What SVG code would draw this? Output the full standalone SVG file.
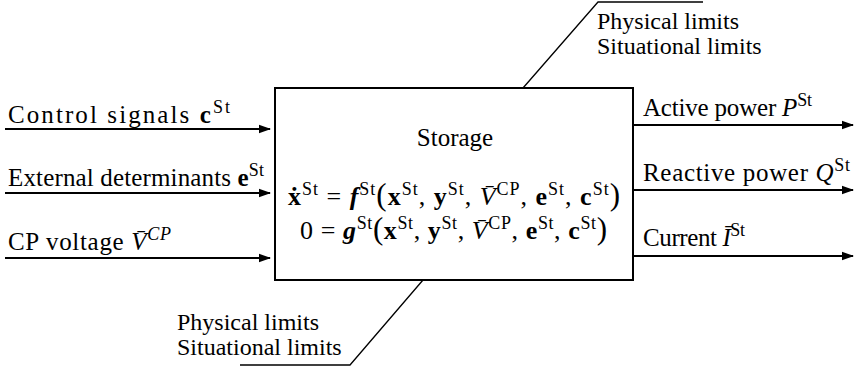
<svg xmlns="http://www.w3.org/2000/svg" width="861" height="370" viewBox="0 0 861 370">
<style>
text{font-family:"Liberation Serif","Times New Roman",serif;font-size:25px;fill:#000}
.lbl{font-size:25px}
.lim{font-size:24px}
.eq{font-size:26px}
.sup{font-size:18px}
.b{font-weight:bold}
.i{font-style:italic}
.bi{font-weight:bold;font-style:italic}
.big{font-size:31px}
.wire{stroke:#000;stroke-width:2;fill:none}
.lead{stroke:#000;stroke-width:1.3;fill:none}
</style>
<defs>
<marker id="ah" markerUnits="userSpaceOnUse" markerWidth="12" markerHeight="10" refX="11" refY="5" orient="auto">
<path d="M0,0.8 L12,5 L0,9.2 Z" fill="#000"/>
</marker>
</defs>
<g id="storage">
<rect x="275" y="88" width="358" height="192" fill="#fff" stroke="#000" stroke-width="2"/>
<text x="455" y="146" text-anchor="middle" class="lbl">Storage</text>
<text class="eq" x="288" y="205" textLength="332" lengthAdjust="spacing"><tspan class="b">ẋ</tspan><tspan class="sup" dy="-10">St</tspan><tspan dy="10"> = </tspan><tspan class="bi">f</tspan><tspan class="sup" dy="-10">St</tspan><tspan class="big" dy="10">(</tspan><tspan class="b">x</tspan><tspan class="sup" dy="-10">St</tspan><tspan dy="10">, </tspan><tspan class="b">y</tspan><tspan class="sup" dy="-10">St</tspan><tspan dy="10">, </tspan><tspan class="i">V̄</tspan><tspan class="sup" dy="-10">CP</tspan><tspan dy="10">, </tspan><tspan class="b">e</tspan><tspan class="sup" dy="-10">St</tspan><tspan dy="10">, </tspan><tspan class="b">c</tspan><tspan class="sup" dy="-10">St</tspan><tspan class="big" dy="10">)</tspan></text>
<text class="eq" x="300" y="239" textLength="307" lengthAdjust="spacing"><tspan>0 = </tspan><tspan class="bi">g</tspan><tspan class="sup" dy="-10">St</tspan><tspan class="big" dy="10">(</tspan><tspan class="b">x</tspan><tspan class="sup" dy="-10">St</tspan><tspan dy="10">, </tspan><tspan class="b">y</tspan><tspan class="sup" dy="-10">St</tspan><tspan dy="10">, </tspan><tspan class="i">V̄</tspan><tspan class="sup" dy="-10">CP</tspan><tspan dy="10">, </tspan><tspan class="b">e</tspan><tspan class="sup" dy="-10">St</tspan><tspan dy="10">, </tspan><tspan class="b">c</tspan><tspan class="sup" dy="-10">St</tspan><tspan class="big" dy="10">)</tspan></text>
</g>
<g id="in-control">
<text class="lbl" x="8" y="123" textLength="222" lengthAdjust="spacing">Control signals <tspan class="b">c</tspan><tspan class="sup" dy="-10">St</tspan></text>
</g>
<g id="in-external">
<text class="lbl" x="8" y="186" textLength="256" lengthAdjust="spacing">External determinants <tspan class="b">e</tspan><tspan class="sup" dy="-10">St</tspan></text>
</g>
<g id="in-voltage">
<text class="lbl" x="8" y="250" textLength="163" lengthAdjust="spacing">CP voltage <tspan class="i">V̄</tspan><tspan class="sup i" dy="-10">CP</tspan></text>
</g>
<g id="out-active">
<text class="lbl" x="643" y="116" textLength="169" lengthAdjust="spacing">Active power <tspan class="i">P</tspan><tspan class="sup" dy="-10">St</tspan></text>
</g>
<g id="out-reactive">
<text class="lbl" x="643" y="181" textLength="207" lengthAdjust="spacing">Reactive power <tspan class="i">Q</tspan><tspan class="sup" dy="-10">St</tspan></text>
</g>
<g id="out-current">
<text class="lbl" x="643" y="246" textLength="102" lengthAdjust="spacing">Current <tspan class="i">Ī</tspan><tspan class="sup" dy="-10">St</tspan></text>
</g>
<g id="limits-top">
<text class="lim" x="597" y="29">Physical limits</text>
<text class="lim" x="597" y="54">Situational limits</text>
</g>
<g id="limits-bottom">
<text class="lim" x="177" y="330">Physical limits</text>
<text class="lim" x="177" y="355">Situational limits</text>
</g>
<g id="connectors">
<line class="wire" x1="5" y1="129" x2="270" y2="129" marker-end="url(#ah)"/>
<line class="wire" x1="5" y1="193" x2="270" y2="193" marker-end="url(#ah)"/>
<line class="wire" x1="5" y1="258" x2="270" y2="258" marker-end="url(#ah)"/>
<line class="wire" x1="633" y1="125" x2="853" y2="125" marker-end="url(#ah)"/>
<line class="wire" x1="633" y1="190" x2="853" y2="190" marker-end="url(#ah)"/>
<line class="wire" x1="633" y1="256" x2="853" y2="256" marker-end="url(#ah)"/>
<polyline class="lead" points="523,88 598,2 703,2"/>
<polyline class="lead" points="423,280 350,365 240,365"/>
</g>
</svg>
